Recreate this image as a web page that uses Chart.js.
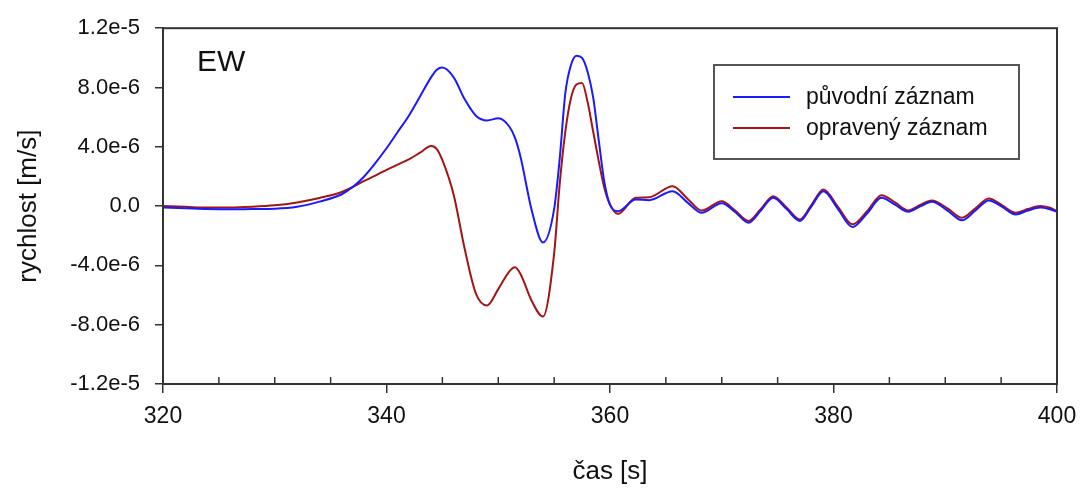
<!DOCTYPE html>
<html>
<head>
    <title>EW</title>
    <script src="https://cdn.jsdelivr.net/npm/chart.js@4/dist/chart.umd.min.js"></script>
    <style>
        body { margin: 0; background: #fff; }
    </style>
</head>
<body>
    <canvas id="myChart" width="1082" height="491"></canvas>

    <script>
        // time [s]
        var times = [320, 322, 324, 326, 328, 330, 332, 334, 336,
            337, 338, 339, 340, 341, 342, 343, 344, 344.5, 345, 346, 347, 348, 349, 350, 351,
            351.5, 352, 353, 354, 355,
            355.5, 356, 356.5, 357, 357.5, 358, 358.5, 359, 359.5, 360,
            360.7, 362.3, 363.5, 365.6, 367, 368.2, 370, 371.2, 372.4, 373.5,
            374.6, 375.8, 377, 378, 379.1, 380.4, 381.7, 383, 384.3, 385.5,
            386.7, 387.8, 388.8, 390.2, 391.5, 392.7, 393.9, 395.1, 396.3, 397.4,
            398.5, 399.3, 400];

        // velocity in units of 1e-6 m/s
        var puvodni = [-0.1, -0.15, -0.2, -0.22, -0.2, -0.18, -0.05, 0.3, 0.8,
            1.3, 2.0, 2.9, 3.9, 5.0, 6.1, 7.4, 8.7, 9.2, 9.35, 8.7, 7.2, 6.1, 5.78, 5.92, 5.35,
            4.6, 3.3, -0.3, -2.45, -0.2,
            3.2, 7.6, 9.5, 10.15, 10.0, 9.05, 7.3, 4.4, 1.6, 0.1,
            -0.35, 0.45, 0.4, 1.0, 0.2, -0.45, 0.2, -0.4, -1.12, -0.3,
            0.56, -0.2, -1.0, -0.05, 1.0, -0.2, -1.41, -0.5, 0.56, 0.1,
            -0.38, 0.0, 0.29, -0.3, -0.96, -0.3, 0.38, -0.05, -0.56, -0.3,
            -0.1, -0.2, -0.38];

        var opraveny = [0.0, -0.05, -0.1, -0.1, -0.05, 0.05, 0.25, 0.55, 0.95,
            1.3, 1.7, 2.05, 2.45, 2.8, 3.15, 3.6, 4.05, 3.85, 3.1, 0.8, -2.9, -5.9, -6.7, -5.6, -4.4,
            -4.13, -4.6, -6.4, -7.45, -3.2,
            1.5, 5.0, 7.26, 8.2, 8.3, 7.0, 5.0, 3.0, 1.2, 0.1,
            -0.52, 0.56, 0.6, 1.34, 0.45, -0.3, 0.33, -0.3, -1.0, -0.2,
            0.67, -0.1, -0.9, 0.05, 1.12, -0.05, -1.23, -0.35, 0.74, 0.25,
            -0.29, 0.1, 0.38, -0.15, -0.78, -0.15, 0.51, 0.05, -0.45, -0.2,
            0.0, -0.1, -0.33];

        var seriesNames = ['původní záznam', 'opravený záznam'];
        var seriesColors = ['#1a1aff', '#a31515'];
        var panelLabel = 'EW';

        var FONT = '"Liberation Sans", Arial, sans-serif';
        var AXIS = '#333333';

        function toPoints(vals) {
            return times.map(function (t, i) { return { x: t, y: vals[i] }; });
        }

        // frame, minor ticks, panel label and legend box
        var decor = {
            id: 'decor',
            afterDraw: function (chart) {
                var ctx = chart.ctx;
                var a = chart.chartArea;
                var xs = chart.scales.x;
                ctx.save();
                ctx.strokeStyle = AXIS;
                ctx.lineWidth = 2;
                ctx.strokeRect(a.left, a.top, a.right - a.left, a.bottom - a.top);

                // minor x ticks pointing inward
                ctx.lineWidth = 1.5;
                for (var v = 325; v < 400; v += 5) {
                    if (v % 20 === 0) continue;
                    var px = xs.getPixelForValue(v);
                    ctx.beginPath();
                    ctx.moveTo(px, a.bottom);
                    ctx.lineTo(px, a.bottom - 7);
                    ctx.stroke();
                }

                ctx.fillStyle = '#111';
                ctx.font = '30px ' + FONT;
                ctx.textBaseline = 'alphabetic';
                ctx.textAlign = 'left';
                ctx.fillText(panelLabel, 197, 71);

                // legend
                ctx.strokeStyle = '#555';
                ctx.lineWidth = 2;
                ctx.strokeRect(714, 65, 305, 94);
                ctx.font = '23px ' + FONT;
                ctx.textBaseline = 'middle';
                chart.data.datasets.forEach(function (ds, i) {
                    var y = 97 + i * 31;
                    ctx.strokeStyle = ds.borderColor;
                    ctx.lineWidth = 2;
                    ctx.beginPath();
                    ctx.moveTo(733, y);
                    ctx.lineTo(790, y);
                    ctx.stroke();
                    ctx.fillStyle = '#111';
                    ctx.fillText(ds.label, 806, y + 1);
                });
                ctx.restore();
            }
        };

        var data = {
            datasets: [{
                label: seriesNames[0],
                data: toPoints(puvodni),
                borderColor: seriesColors[0],
                borderWidth: 2,
                pointRadius: 0,
                cubicInterpolationMode: 'monotone'
            }, {
                label: seriesNames[1],
                data: toPoints(opraveny),
                borderColor: seriesColors[1],
                borderWidth: 2,
                pointRadius: 0,
                cubicInterpolationMode: 'monotone'
            }]
        };

        var config = {
            type: 'line',
            data: data,
            options: {
                responsive: false,
                animation: false,
                layout: { padding: { top: 26, right: 25, left: 0, bottom: 0 } },
                plugins: {
                    legend: { display: false },
                    tooltip: { enabled: false }
                },
                scales: {
                    x: {
                        type: 'linear',
                        min: 320,
                        max: 400,
                        afterFit: function (s) {
                            s.height = 107;
                            s.paddingLeft = 0;
                            s.paddingRight = 0;
                        },
                        border: { display: true, color: AXIS, width: 2 },
                        grid: { drawOnChartArea: false, drawTicks: true, tickLength: 9, color: AXIS, lineWidth: 1.5 },
                        ticks: {
                            stepSize: 20,
                            padding: 10,
                            maxRotation: 0,
                            color: '#111',
                            font: { family: FONT, size: 23 }
                        },
                        title: {
                            display: true,
                            text: 'čas [s]',
                            color: '#111',
                            padding: { top: 0, bottom: 4 },
                            font: { family: FONT, size: 26 }
                        }
                    },
                    y: {
                        min: -12,
                        max: 12,
                        afterFit: function (s) { s.width = 163; },
                        border: { display: true, color: AXIS, width: 2 },
                        grid: { drawOnChartArea: false, drawTicks: true, tickLength: 8, color: AXIS, lineWidth: 1.5 },
                        ticks: {
                            stepSize: 4,
                            padding: 15,
                            color: '#111',
                            font: { family: FONT, size: 22 },
                            callback: function (v) {
                                if (Math.abs(v) < 1e-9) return '0.0';
                                return (v * 1e-6).toExponential(1);
                            }
                        },
                        title: {
                            display: true,
                            text: 'rychlost [m/s]',
                            color: '#111',
                            padding: { top: 13, bottom: 0 },
                            font: { family: FONT, size: 26 }
                        }
                    }
                }
            },
            plugins: [decor]
        };

        var ctx = document.getElementById('myChart').getContext('2d');
        var chart = new Chart(ctx, config);
    </script>
</body>
</html>
